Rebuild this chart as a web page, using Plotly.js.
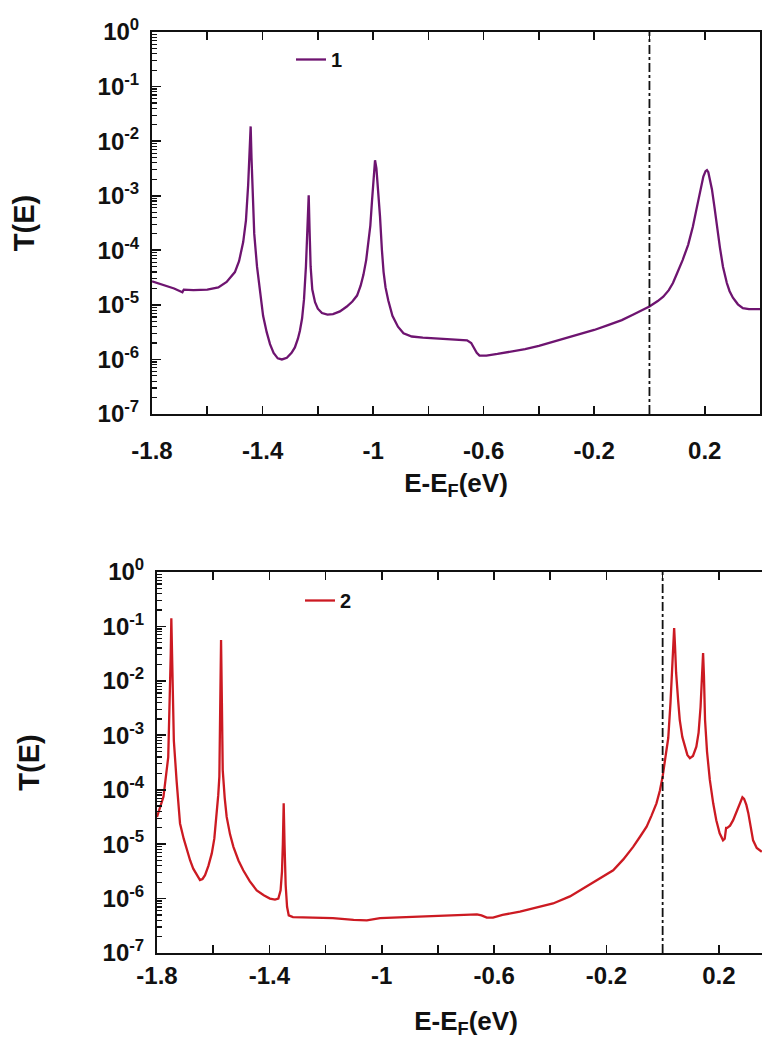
<!DOCTYPE html>
<html>
<head>
<meta charset="utf-8">
<script src="https://cdn.plot.ly/plotly-3.0.1.min.js"></script>
<style>
html,body{margin:0;padding:0;overflow:hidden;background:#fff;}
#chart{width:780px;height:1042px;}
</style>
</head>
<body>
<div id="chart"></div>
<script>
// ---- Data ----
// Curve 1 (top panel): energy E-EF (eV) and log10 T(E)
const energy1 = [-1.80,-1.76,-1.72,-1.69,-1.685,-1.65,-1.60,-1.56,-1.53,-1.50,-1.485,-1.47,-1.46,-1.452,-1.447,-1.443,-1.440,-1.436,-1.43,-1.42,-1.41,-1.398,-1.385,-1.373,-1.36,-1.345,-1.33,-1.312,-1.295,-1.283,-1.272,-1.265,-1.257,-1.25,-1.243,-1.238,-1.233,-1.230,-1.226,-1.22,-1.21,-1.20,-1.185,-1.165,-1.145,-1.12,-1.095,-1.075,-1.058,-1.045,-1.035,-1.025,-1.018,-1.010,-1.004,-0.998,-0.993,-0.988,-0.982,-0.975,-0.968,-0.962,-0.955,-0.945,-0.93,-0.91,-0.89,-0.86,-0.82,-0.78,-0.73,-0.69,-0.66,-0.645,-0.635,-0.625,-0.615,-0.59,-0.55,-0.50,-0.45,-0.40,-0.35,-0.30,-0.25,-0.20,-0.15,-0.10,-0.06,-0.02,0.0,0.03,0.05,0.07,0.085,0.10,0.12,0.14,0.157,0.17,0.182,0.195,0.203,0.208,0.213,0.22,0.226,0.235,0.244,0.255,0.266,0.28,0.29,0.302,0.32,0.338,0.36,0.38,0.40];
const logT1 = [-4.57,-4.63,-4.70,-4.77,-4.72,-4.73,-4.72,-4.68,-4.58,-4.40,-4.20,-3.85,-3.45,-2.80,-2.20,-1.73,-2.30,-3.00,-3.70,-4.30,-4.75,-5.20,-5.50,-5.72,-5.88,-5.98,-6.00,-5.97,-5.88,-5.78,-5.62,-5.48,-5.25,-4.90,-4.30,-3.60,-2.99,-3.60,-4.30,-4.72,-4.95,-5.07,-5.15,-5.18,-5.17,-5.12,-5.03,-4.94,-4.83,-4.65,-4.45,-4.18,-3.93,-3.55,-3.10,-2.60,-2.35,-2.50,-2.85,-3.38,-4.00,-4.40,-4.68,-4.92,-5.20,-5.40,-5.52,-5.58,-5.60,-5.61,-5.62,-5.63,-5.65,-5.70,-5.78,-5.88,-5.93,-5.93,-5.90,-5.86,-5.81,-5.75,-5.68,-5.61,-5.53,-5.46,-5.37,-5.28,-5.18,-5.08,-5.03,-4.93,-4.85,-4.73,-4.60,-4.42,-4.18,-3.90,-3.57,-3.25,-2.95,-2.65,-2.55,-2.53,-2.57,-2.72,-2.88,-3.20,-3.57,-3.95,-4.30,-4.60,-4.75,-4.87,-4.99,-5.06,-5.08,-5.08,-5.08];

// Curve 2 (bottom panel)
const energy2 = [-1.80,-1.777,-1.76,-1.754,-1.751,-1.749,-1.746,-1.743,-1.740,-1.73,-1.718,-1.705,-1.694,-1.682,-1.671,-1.659,-1.647,-1.638,-1.629,-1.617,-1.605,-1.596,-1.588,-1.582,-1.578,-1.575,-1.572,-1.569,-1.566,-1.559,-1.552,-1.54,-1.528,-1.51,-1.493,-1.47,-1.445,-1.42,-1.398,-1.38,-1.368,-1.360,-1.355,-1.352,-1.349,-1.346,-1.342,-1.337,-1.331,-1.316,-1.25,-1.174,-1.10,-1.053,-1.006,-0.95,-0.889,-0.83,-0.768,-0.70,-0.661,-0.645,-0.626,-0.604,-0.57,-0.508,-0.45,-0.39,-0.33,-0.271,-0.22,-0.176,-0.14,-0.105,-0.08,-0.057,-0.04,-0.022,-0.01,0.0,0.010,0.020,0.028,0.035,0.039,0.041,0.044,0.048,0.055,0.061,0.07,0.079,0.088,0.097,0.108,0.12,0.128,0.135,0.140,0.144,0.147,0.151,0.158,0.168,0.18,0.191,0.203,0.215,0.221,0.226,0.230,0.24,0.251,0.265,0.275,0.284,0.290,0.298,0.305,0.315,0.322,0.335,0.353];
const logT2 = [-4.50,-4.13,-3.40,-2.41,-1.50,-0.85,-1.60,-2.50,-3.10,-3.85,-4.62,-4.90,-5.11,-5.30,-5.45,-5.57,-5.66,-5.64,-5.57,-5.40,-5.17,-4.90,-4.50,-4.10,-3.76,-2.60,-1.25,-2.40,-3.64,-4.15,-4.50,-4.82,-5.05,-5.30,-5.48,-5.68,-5.85,-5.94,-6.00,-6.02,-6.00,-5.85,-5.50,-5.00,-4.25,-5.00,-5.75,-6.15,-6.31,-6.34,-6.35,-6.36,-6.39,-6.40,-6.36,-6.35,-6.34,-6.32,-6.31,-6.30,-6.29,-6.31,-6.35,-6.35,-6.30,-6.24,-6.17,-6.09,-5.96,-5.78,-5.63,-5.48,-5.28,-5.05,-4.86,-4.68,-4.48,-4.25,-4.02,-3.76,-3.40,-3.05,-2.40,-1.70,-1.20,-1.03,-1.35,-1.85,-2.35,-2.72,-3.03,-3.21,-3.36,-3.42,-3.38,-3.21,-2.95,-2.48,-1.90,-1.49,-1.90,-2.72,-3.30,-3.82,-4.25,-4.56,-4.80,-4.93,-4.90,-4.70,-4.70,-4.66,-4.56,-4.38,-4.25,-4.14,-4.17,-4.28,-4.43,-4.72,-4.93,-5.07,-5.14];

const xTickVals = [-1.8,-1.4,-1,-0.6,-0.2,0.2];
const xTickText = ['-1.8','-1.4','-1','-0.6','-0.2','0.2'];
const yTickVals = [1e-7,1e-6,1e-5,1e-4,1e-3,1e-2,1e-1,1];
const yTickText = ['10<sup>-7</sup>','10<sup>-6</sup>','10<sup>-5</sup>','10<sup>-4</sup>','10<sup>-3</sup>','10<sup>-2</sup>','10<sup>-1</sup>','10<sup>0</sup>'];
const seriesNames = ['1','2'];
const seriesColors = ['#6e1470','#cc1a22'];

// ---- Figure ----
const W = 780, H = 1042;
const FONT = 'Liberation Sans, Arial, Helvetica, sans-serif';
const toT = a => a.map(v => Math.pow(10, v));

function xAxis(domain, anchor, standoff, titleStandoff) {
  return {
    domain: domain, anchor: anchor, range: [-1.8, 0.4],
    tickmode: 'array', tickvals: xTickVals, ticktext: xTickText,
    ticks: 'inside', ticklen: 8, tickwidth: 1.6, tickcolor: '#111',
    minor: {tickmode: 'linear', tick0: -1.8, dtick: 0.2, ticks: 'inside', ticklen: 8, tickwidth: 1.6, tickcolor: '#111'},
    showline: true, linewidth: 2, linecolor: '#111', mirror: 'allticks',
    showgrid: false, zeroline: false,
    ticklabelstandoff: standoff,
    tickfont: {family: FONT, size: 24, color: '#111', weight: 'bold'},
    title: {text: 'E-E<sub>F</sub>(eV)', standoff: titleStandoff,
            font: {family: FONT, size: 26, color: '#111', weight: 'bold'}}
  };
}
function yAxis(domain, anchor) {
  return {
    domain: domain, anchor: anchor, type: 'log', range: [-7, 0],
    tickmode: 'array', tickvals: yTickVals, ticktext: yTickText,
    ticks: 'inside', ticklen: 9, tickwidth: 1.6, tickcolor: '#111',
    minor: {dtick: 'D1', ticks: 'inside', ticklen: 5, tickwidth: 1.2, tickcolor: '#111'},
    showline: true, linewidth: 2, linecolor: '#111', mirror: true,
    showgrid: false, zeroline: false,
    ticklabelstandoff: 6,
    tickfont: {family: FONT, size: 24, color: '#111', weight: 'bold'},
    title: {text: 'T(E)', standoff: 54,
            font: {family: FONT, size: 29, color: '#111', weight: 'bold'}}
  };
}

const traces = [
  {x: energy1, y: toT(logT1), xaxis: 'x', yaxis: 'y', name: seriesNames[0], mode: 'lines',
   line: {color: seriesColors[0], width: 2.3}, legend: 'legend'},
  {x: energy2, y: toT(logT2), xaxis: 'x2', yaxis: 'y2', name: seriesNames[1], mode: 'lines',
   line: {color: seriesColors[1], width: 2.3}, legend: 'legend2'}
];

const legendCommon = {bgcolor: 'rgba(0,0,0,0)', borderwidth: 0, xanchor: 'left', yanchor: 'top',
  font: {family: FONT, size: 20, color: '#111', weight: 'bold'}};

const layout = {
  width: W, height: H, margin: {l: 0, r: 0, t: 0, b: 0},
  paper_bgcolor: '#fff', plot_bgcolor: '#fff', showlegend: true,
  xaxis: xAxis([152/W, 760/W], 'y', 14, 11),
  yaxis: yAxis([1 - 414/H, 1 - 32/H], 'x'),
  xaxis2: xAxis([157/W, 775/W], 'y2', 0, 24),
  yaxis2: yAxis([1 - 953/H, 1 - 572/H], 'x2'),
  legend: Object.assign({x: 291/W, y: 1 - 40/H}, legendCommon),
  legend2: Object.assign({x: 300/W, y: 1 - 581/H}, legendCommon),
  shapes: [
    {type: 'line', xref: 'x', yref: 'y domain', x0: 0, x1: 0, y0: 0, y1: 1,
     line: {color: '#111', width: 1.8, dash: 'dashdot'}},
    {type: 'line', xref: 'x2', yref: 'y2 domain', x0: 0, x1: 0, y0: 0, y1: 1,
     line: {color: '#111', width: 1.8, dash: 'dashdot'}}
  ]
};

Plotly.newPlot('chart', traces, layout, {displayModeBar: false, staticPlot: true});
</script>
</body>
</html>
